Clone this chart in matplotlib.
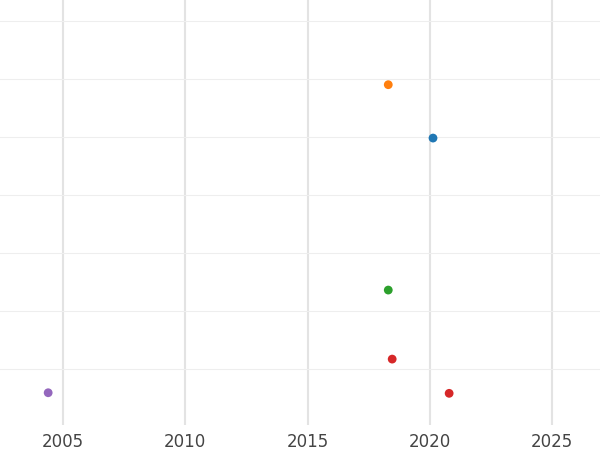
import matplotlib
matplotlib.use("Agg")
import matplotlib.pyplot as plt

# values (x in decimal years)
years = [2018.3, 2020.13, 2018.3, 2018.46, 2004.39, 2020.79]
vals = [59.0, 49.8, 23.6, 11.7, 5.9, 5.8]
colors = ["#ff7f0e", "#1f77b4", "#2ca02c", "#d62728", "#9467bd", "#d62728"]
xticks = [2005, 2010, 2015, 2020, 2025]

fig = plt.figure(figsize=(6, 4.5), dpi=100)
ax = fig.add_axes([0, 25 / 450, 1, 425 / 450])
ax.scatter(years, vals, c=colors, s=40, zorder=3, edgecolors="none")

ax.set_xlim(2002.42, 2026.96)
ax.set_ylim(0.34, 73.6)
ax.set_xticks(xticks)
ax.set_yticks([10, 20, 30, 40, 50, 60, 70])
ax.set_yticklabels([])
ax.grid(True, axis="x", color="#e3e3e3", linewidth=1.5)
ax.grid(True, axis="y", color="#eeeeee", linewidth=0.8)
ax.set_axisbelow(True)
for s in ax.spines.values():
    s.set_visible(False)
ax.tick_params(length=0, labelsize=12, labelcolor="#444444", pad=6)

fig.savefig("out.png")
